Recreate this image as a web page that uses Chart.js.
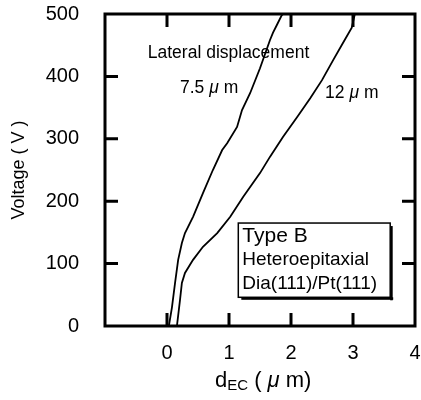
<!DOCTYPE html>
<html>
<head>
<meta charset="utf-8">
<script src="https://cdn.jsdelivr.net/npm/chart.js@4/dist/chart.umd.min.js"></script>
<style>
  html, body { margin: 0; padding: 0; background: #fff; }
  #wrap { width: 421px; height: 400px; }
</style>
</head>
<body>
<div id="wrap"><canvas id="chart" width="421" height="400"></canvas></div>
<script>
// curve for 7.5 um lateral displacement
const dEC75 = [0.03, 0.08, 0.13, 0.18, 0.24, 0.29, 0.42, 0.58, 0.74, 0.89, 0.97, 1.13, 1.21, 1.34, 1.50, 1.66, 1.71, 1.77, 1.85, 1.87];
const volt75 = [0, 30, 69, 106, 133, 149, 175, 213, 250, 282, 293, 319, 346, 373, 413, 458, 470, 482, 498, 500];

// curve for 12 um lateral displacement
const dEC12 = [0.16, 0.21, 0.24, 0.29, 0.42, 0.58, 0.81, 1.02, 1.23, 1.50, 1.66, 1.87, 2.10, 2.31, 2.50, 2.68, 2.84, 2.98, 3.03];
const volt12 = [0, 42, 69, 85, 106, 127, 149, 175, 207, 245, 271, 303, 335, 365, 394, 426, 454, 478, 500];

const xTickValues = [0, 1, 2, 3];
const yTickValues = [100, 200, 300, 400];

const FONT = '"Liberation Sans", Arial, Helvetica, sans-serif';

function zip(xs, ys) {
  return xs.map((x, i) => ({ x: x, y: ys[i] }));
}

// draw a run of text pieces with different fonts, left aligned
function drawRuns(ctx, x, y, runs) {
  ctx.textBaseline = "middle";
  ctx.textAlign = "left";
  runs.forEach(r => {
    ctx.font = r.font;
    ctx.fillText(r.t, x, y + (r.dy || 0));
    x += ctx.measureText(r.t).width;
  });
}

const framePlugin = {
  id: "frame",
  afterDraw(chart) {
    const ctx = chart.ctx;
    const xs = chart.scales.x;
    const ys = chart.scales.y;
    const a = chart.chartArea;
    const tick = 13;

    ctx.save();
    ctx.strokeStyle = "#000";
    ctx.fillStyle = "#000";
    ctx.lineWidth = 3;
    ctx.strokeRect(a.left, a.top, a.right - a.left, a.bottom - a.top);

    ctx.beginPath();
    xTickValues.forEach(v => {
      const px = xs.getPixelForValue(v);
      ctx.moveTo(px, a.bottom); ctx.lineTo(px, a.bottom - tick);
      ctx.moveTo(px, a.top); ctx.lineTo(px, a.top + tick);
    });
    yTickValues.forEach(v => {
      const py = ys.getPixelForValue(v);
      ctx.moveTo(a.left, py); ctx.lineTo(a.left + tick, py);
      ctx.moveTo(a.right, py); ctx.lineTo(a.right - tick, py);
    });
    ctx.stroke();

    // annotations
    const mu = "italic 17.5px " + FONT;
    const f17 = "17.5px " + FONT;
    drawRuns(ctx, xs.getPixelForValue(-0.31), ys.getPixelForValue(437),
      [{ t: "Lateral displacement", font: "17.5px " + FONT }]);
    drawRuns(ctx, xs.getPixelForValue(0.21), ys.getPixelForValue(381),
      [{ t: "7.5 ", font: f17 }, { t: "\u03bc", font: mu }, { t: " m", font: f17 }]);
    drawRuns(ctx, xs.getPixelForValue(2.55), ys.getPixelForValue(373),
      [{ t: "12 ", font: f17 }, { t: "\u03bc", font: mu }, { t: " m", font: f17 }]);

    // info box with shadow
    const bx0 = xs.getPixelForValue(1.15), bx1 = xs.getPixelForValue(3.60);
    const by0 = ys.getPixelForValue(165), by1 = ys.getPixelForValue(46);
    ctx.fillRect(bx0 + 3, by1, bx1 - bx0, 2.5);
    ctx.fillRect(bx1, by0 + 3, 2.5, by1 - by0);
    ctx.fillStyle = "#fff";
    ctx.fillRect(bx0, by0, bx1 - bx0, by1 - by0);
    ctx.fillStyle = "#000";
    ctx.lineWidth = 1.5;
    ctx.strokeRect(bx0, by0, bx1 - bx0, by1 - by0);
    drawRuns(ctx, bx0 + 4, by0 + 13, [{ t: "Type B", font: "21px " + FONT }]);
    drawRuns(ctx, bx0 + 4, by0 + 37, [{ t: "Heteroepitaxial", font: "19px " + FONT }]);
    drawRuns(ctx, bx0 + 4, by0 + 61, [{ t: "Dia(111)/Pt(111)", font: "19px " + FONT }]);

    // axis titles
    drawRuns(ctx, 215, 381, [
      { t: "d", font: "22px " + FONT },
      { t: "EC", font: "15px " + FONT, dy: 5 },
      { t: " ( ", font: "22px " + FONT },
      { t: "\u03bc", font: "italic 22px " + FONT },
      { t: " m)", font: "22px " + FONT }
    ]);
    ctx.translate(19, 170);
    ctx.rotate(-Math.PI / 2);
    ctx.textAlign = "center";
    ctx.font = "18px " + FONT;
    ctx.fillText("Voltage ( V )", 0, 0);
    ctx.restore();
  }
};

const lineStyle = {
  showLine: true,
  borderColor: "#000",
  borderWidth: 1.8,
  pointRadius: 0,
  fill: false,
  tension: 0
};

new Chart(document.getElementById("chart"), {
  type: "scatter",
  data: {
    datasets: [
      Object.assign({ label: "7.5 um", data: zip(dEC75, volt75) }, lineStyle),
      Object.assign({ label: "12 um", data: zip(dEC12, volt12) }, lineStyle)
    ]
  },
  options: {
    responsive: false,
    animation: false,
    devicePixelRatio: 1,
    layout: { padding: { top: 14, right: 6, left: 0, bottom: 0 } },
    plugins: { legend: { display: false }, tooltip: { enabled: false } },
    scales: {
      x: {
        type: "linear",
        min: -1,
        max: 4,
        grid: { display: false },
        border: { display: false },
        afterFit: s => { s.height = 74; s.paddingLeft = 0; s.paddingRight = 0; },
        ticks: {
          stepSize: 1,
          padding: 7,
          color: "#000",
          font: { family: FONT, size: 20 },
          callback: v => (v < 0 ? "" : v)
        }
      },
      y: {
        min: 0,
        max: 500,
        grid: { display: false },
        border: { display: false },
        afterFit: s => { s.width = 105; s.paddingTop = 0; s.paddingBottom = 0; },
        ticks: {
          stepSize: 100,
          padding: 18,
          color: "#000",
          font: { family: FONT, size: 20 }
        }
      }
    }
  },
  plugins: [framePlugin]
});
</script>
</body>
</html>
